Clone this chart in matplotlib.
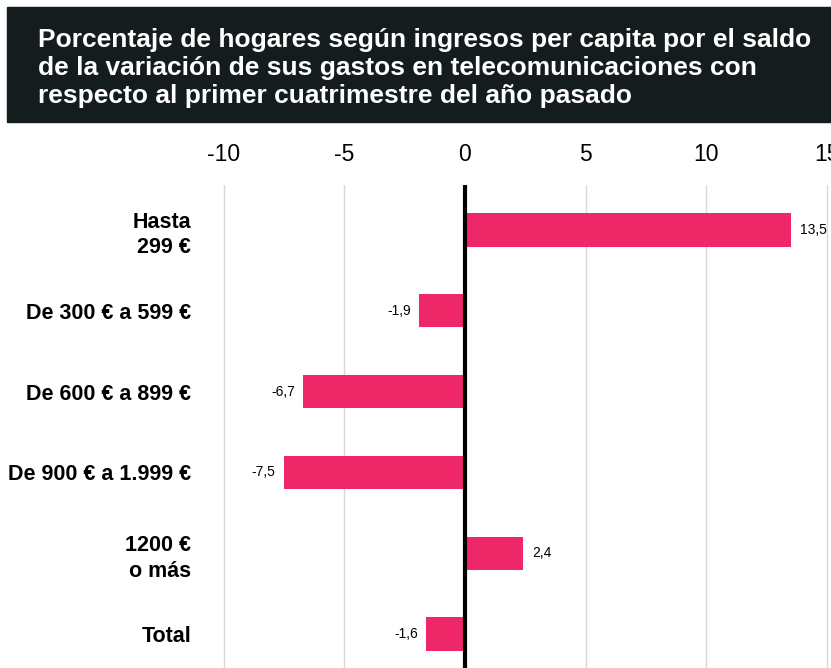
import matplotlib.pyplot as plt
import matplotlib.patches as mpatches

categorias = ['Hasta\n299 €', 'De 300 € a 599 €', 'De 600 € a 899 €',
              'De 900 € a 1.999 €', '1200 €\no más', 'Total']
valores = [13.5, -1.9, -6.7, -7.5, 2.4, -1.6]
etiquetas = ['13,5', '-1,9', '-6,7', '-7,5', '2,4', '-1,6']
ticks = [-10, -5, 0, 5, 10, 15]

titulo = ('Porcentaje de hogares según ingresos per capita por el saldo\n'
          'de la variación de sus gastos en telecomunicaciones con\n'
          'respecto al primer cuatrimestre del año pasado')

color_barra = '#ee2769'
fuente = ['Liberation Sans', 'DejaVu Sans']

fig = plt.figure(figsize=(8.31, 6.68), dpi=100)
W, H = 831, 668

# caja del titulo
caja = mpatches.Rectangle((7 / W, 1 - 122 / H), 1 - 7 / W, (122 - 7) / H,
                          transform=fig.transFigure, color='#141c1d', zorder=0)
fig.patches.append(caja)
fig.text(38 / W, 1 - 28 / H, titulo, color='white', fontsize=19,
         fontweight='bold', family=fuente, va='top', ha='left',
         linespacing=1.22)

# ejes
ax = fig.add_axes([199.5 / W, 0, (831 - 199.5) / W, (668 - 185) / H])
ypos = list(range(len(valores)))
ax.barh(ypos, valores, height=0.41, color=color_barra, zorder=2)
ax.set_xlim(-11, 15.17)
ax.set_ylim(5.42, -0.557)

ax.set_xticks(ticks)
ax.set_xticklabels([str(t) for t in ticks], family=fuente, fontsize=16.5)
ax.xaxis.tick_top()
ax.tick_params(axis='x', length=0, pad=14)
ax.set_yticks(ypos)
ax.set_yticklabels(categorias, fontsize=15.5, fontweight='bold',
                   family=fuente, linespacing=1.3)
ax.tick_params(axis='y', length=0, pad=6)

ax.grid(axis='x', color='#d8d8d8', linewidth=1, zorder=0)
ax.axvline(0, color='black', linewidth=3, zorder=3)
for s in ax.spines.values():
    s.set_visible(False)

for y, v, t in zip(ypos, valores, etiquetas):
    if v >= 0:
        ax.text(v + 0.4, y, t, ha='left', va='center', fontsize=10,
                family=fuente, zorder=4)
    else:
        ax.text(v - 0.35, y, t, ha='right', va='center', fontsize=10,
                family=fuente, zorder=4)

fig.savefig('out.png', dpi=100)
